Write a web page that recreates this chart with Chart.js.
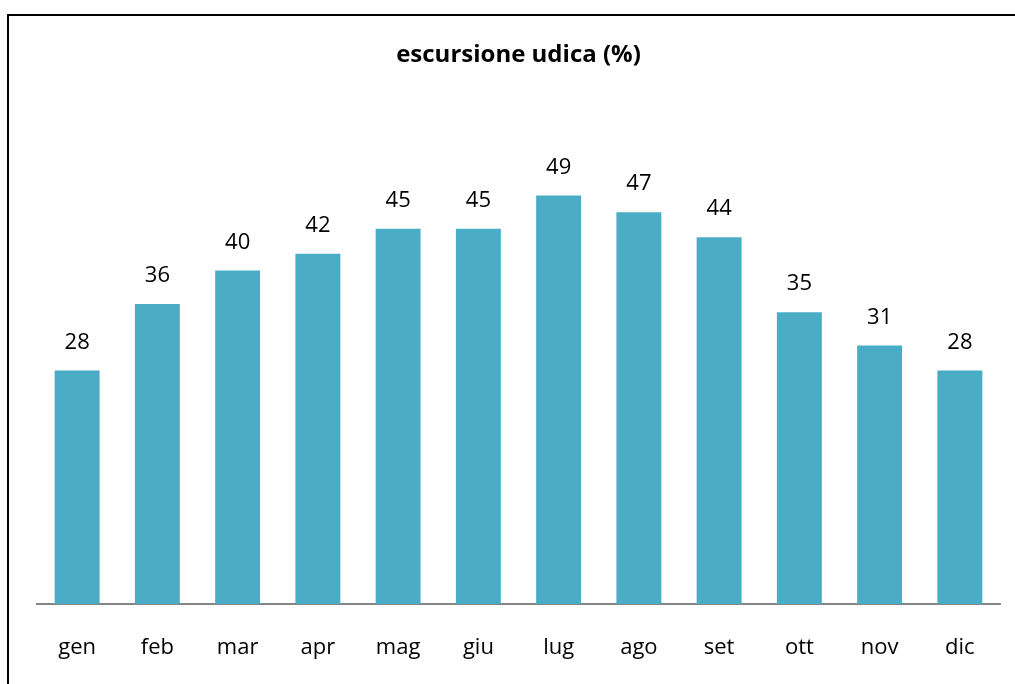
<!DOCTYPE html>
<html>
<head>
<meta charset="utf-8">
<script src="https://cdn.jsdelivr.net/npm/chart.js@4/dist/chart.umd.min.js"></script>
<style>
html,body{margin:0;padding:0;background:#fff;}
#wrap{width:1015px;height:684px;position:relative;}
</style>
</head>
<body>
<div id="wrap"><canvas id="c" width="1015" height="684"></canvas></div>
<script>
const categories = ['gen','feb','mar','apr','mag','giu','lug','ago','set','ott','nov','dic'];
const values = [28,36,40,42,45,45,49,47,44,35,31,28];
const chartTitle = 'escursione udica (%)';

const frame = {
  id:'frame',
  afterDraw(chart){
    const ctx = chart.ctx;
    ctx.save();
    ctx.strokeStyle = '#000';
    ctx.lineWidth = 2;
    ctx.strokeRect(8, 15, 1015, 690);
    ctx.restore();
  }
};
const dataLabels = {
  id:'dataLabels',
  afterDatasetsDraw(chart){
    const ctx = chart.ctx;
    const meta = chart.getDatasetMeta(0);
    ctx.save();
    ctx.font = '22px "Open Sans"';
    ctx.fillStyle = '#000';
    ctx.textAlign = 'center';
    ctx.textBaseline = 'middle';
    meta.data.forEach((bar,i)=>{
      ctx.fillText(String(values[i]), bar.x, bar.y - 28);
    });
    ctx.restore();
  }
};

new Chart(document.getElementById('c'), {
  type:'bar',
  data:{labels:categories, datasets:[{data:values, backgroundColor:'#4BACC6', barPercentage:0.56, categoryPercentage:1}]},
  options:{
    responsive:false, animation:false,
    layout:{padding:{left:37,right:15,top:0,bottom:0}},
    plugins:{
      legend:{display:false}, tooltip:{enabled:false},
      title:{display:true, text:chartTitle, color:'#000', font:{family:'"Open Sans"', size:24, weight:'bold', lineHeight:1.2}, padding:{top:41,bottom:34}}
    },
    scales:{
      x:{grid:{display:false, drawTicks:false}, border:{display:true, color:'#868686', width:2},
         afterFit(s){ s.height = 80; },
         ticks:{color:'#000', font:{family:'"Open Sans"', size:22}, padding:31}},
      y:{display:false, min:0, max:60}
    }
  },
  plugins:[frame, dataLabels]
});
</script>
</body>
</html>
